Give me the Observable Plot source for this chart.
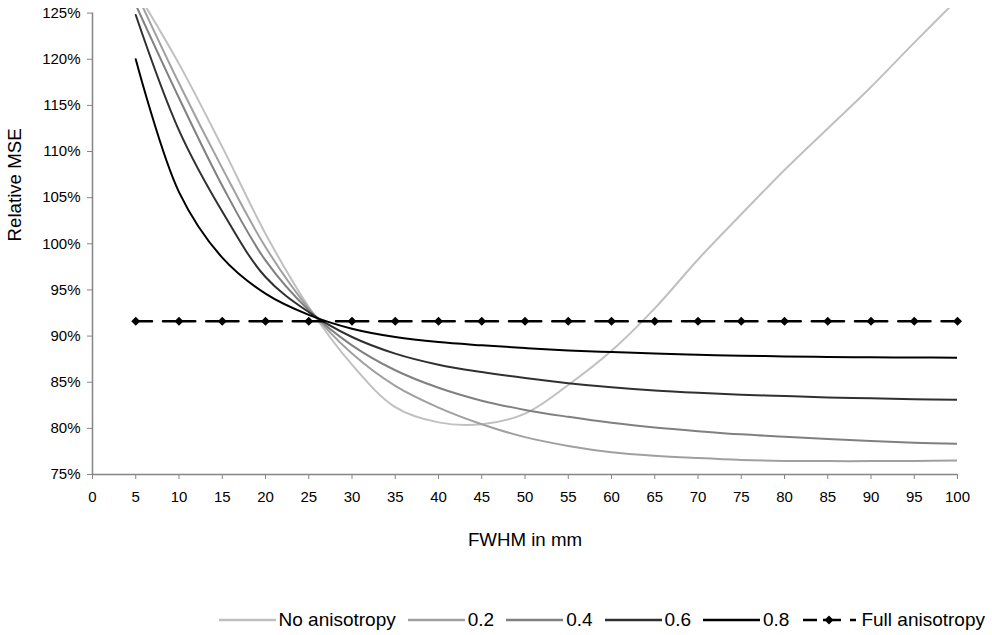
<!DOCTYPE html>
<html>
<head>
<meta charset="utf-8">
<script src="https://cdn.jsdelivr.net/npm/d3@7"></script>
<script src="https://cdn.jsdelivr.net/npm/@observablehq/plot@0.6"></script>
<style>
  html, body { margin: 0; padding: 0; background: #fff; }
  body { width: 992px; height: 635px; overflow: hidden; font-family: 'Liberation Sans', Arial, sans-serif; }
  #legend { display: flex; justify-content: flex-end; align-items: center; height: 24px; margin-top: 18px; padding-right: 7px; font-size: 19px; color: #000; }
  #legend .item { display: flex; align-items: center; margin-left: 12px; }
  #legend svg { margin-right: 3px; }
</style>
</head>
<body>
<div id="chart"></div>
<div id="legend"></div>
<script>
// FWHM (mm) sample positions
const fwhm = [5, 10, 15, 20, 25, 30, 35, 40, 45, 50, 55, 60, 65, 70, 75, 80, 85, 90, 95, 100];
// Relative MSE (%) per anisotropy level
const noAnisotropy = [127.5, 119.5, 110.5, 101.1, 93.15, 86.9, 82.3, 80.65, 80.45, 81.6, 84.7, 88.4, 93.0, 98.3, 103.2, 108.0, 112.5, 117.0, 121.8, 126.5];
const aniso02 = [127.3, 117.4, 108.2, 99.65, 93.0, 88.1, 84.6, 82.25, 80.45, 79.05, 78.1, 77.42, 77.03, 76.78, 76.58, 76.47, 76.45, 76.45, 76.46, 76.52];
const aniso04 = [125.9, 115.8, 106.3, 98.2, 92.8, 89.0, 86.3, 84.4, 83.0, 82.0, 81.25, 80.6, 80.1, 79.7, 79.35, 79.1, 78.85, 78.62, 78.45, 78.33];
const aniso06 = [124.8, 112.3, 103.5, 96.4, 92.6, 89.9, 88.1, 86.9, 86.1, 85.45, 84.9, 84.45, 84.1, 83.85, 83.65, 83.5, 83.35, 83.25, 83.15, 83.1];
const aniso08 = [120.0, 105.6, 98.5, 94.6, 92.3, 90.8, 89.9, 89.35, 89.0, 88.7, 88.45, 88.27, 88.1, 87.98, 87.87, 87.8, 87.74, 87.7, 87.68, 87.66];
const fullAnisotropy = [91.6, 91.6, 91.6, 91.6, 91.6, 91.6, 91.6, 91.6, 91.6, 91.6, 91.6, 91.6, 91.6, 91.6, 91.6, 91.6, 91.6, 91.6, 91.6, 91.6];

const seriesNames = ["No anisotropy", "0.2", "0.4", "0.6", "0.8"];
const seriesValues = [noAnisotropy, aniso02, aniso04, aniso06, aniso08];
const seriesColors = ["#c0c0c0", "#a0a0a0", "#808080", "#303030", "#000000"];

const xTicks = [0, 5, 10, 15, 20, 25, 30, 35, 40, 45, 50, 55, 60, 65, 70, 75, 80, 85, 90, 95, 100];
const yTicks = [75, 80, 85, 90, 95, 100, 105, 110, 115, 120, 125];

const xTitle = "FWHM in mm";
const yTitle = "Relative MSE";
const fullName = "Full anisotropy";

const tableFor = (vals) => fwhm.map((x, i) => ({x, y: vals[i]}));
const fullRows = tableFor(fullAnisotropy);

const lineMarks = seriesValues.map((vals, i) =>
  Plot.line(tableFor(vals), {x: "x", y: "y", stroke: seriesColors[i], strokeWidth: 2, curve: "catmull-rom", clip: true})
);

const chart = Plot.plot({
  width: 992,
  height: 590,
  marginLeft: 92,
  marginRight: 35,
  marginTop: 8,
  marginBottom: 116,
  style: {fontFamily: "'Liberation Sans', Arial, sans-serif", fontSize: "15px", color: "#000", background: "#fff", overflow: "visible"},
  x: {domain: [0, 100]},
  y: {domain: [75, 125.5]},
  marks: [
    Plot.axisX({ticks: xTicks, tickSize: 5, tickPadding: 12, fontSize: 15, label: null, stroke: "#858585", fill: "#000"}),
    Plot.axisY({ticks: yTicks, tickSize: 5, tickPadding: 7, fontSize: 15, label: null, tickFormat: d => d + "%", stroke: "#858585", fill: "#000"}),
    Plot.ruleY([75], {stroke: "#858585", strokeWidth: 1.5}),
    Plot.ruleX([0], {y1: 75, y2: 125, stroke: "#858585", strokeWidth: 1.5}),
    ...lineMarks,
    Plot.line(fullRows, {x: "x", y: "y", stroke: "#000", strokeWidth: 2.5, strokeDasharray: "32.25,11", strokeDashoffset: 16}),
    Plot.dot(fullRows, {x: "x", y: "y", symbol: "square", rotate: 45, r: 3.6, fill: "#000", stroke: "none"}),
    Plot.text([xTitle], {text: d => d, frameAnchor: "bottom", dy: 66, lineAnchor: "middle", fontSize: 18.7, fill: "#000"}),
    Plot.text([yTitle], {text: d => d, frameAnchor: "left", dx: -77, rotate: -90, lineAnchor: "middle", fontSize: 18.7, fill: "#000"})
  ]
});
document.getElementById("chart").appendChild(chart);

// Legend
const legend = document.getElementById("legend");
const ns = "http://www.w3.org/2000/svg";
function addItem(label, color, width, dashed) {
  const item = document.createElement("div");
  item.className = "item";
  const svg = document.createElementNS(ns, "svg");
  svg.setAttribute("width", 57);
  svg.setAttribute("height", 12);
  if (!dashed) {
    const l = document.createElementNS(ns, "line");
    l.setAttribute("x1", 0); l.setAttribute("x2", 57);
    l.setAttribute("y1", 6); l.setAttribute("y2", 6);
    l.setAttribute("stroke", color); l.setAttribute("stroke-width", width);
    svg.appendChild(l);
  } else {
    [[2, 16], [22, 40], [49, 55]].forEach(([a, b]) => {
      const l = document.createElementNS(ns, "line");
      l.setAttribute("x1", a); l.setAttribute("x2", b);
      l.setAttribute("y1", 6); l.setAttribute("y2", 6);
      l.setAttribute("stroke", color); l.setAttribute("stroke-width", width);
      svg.appendChild(l);
    });
    const p = document.createElementNS(ns, "path");
    p.setAttribute("d", "M28,1.5 L32.5,6 L28,10.5 L23.5,6 Z");
    p.setAttribute("fill", color);
    svg.appendChild(p);
  }
  item.appendChild(svg);
  const t = document.createElement("span");
  t.textContent = label;
  item.appendChild(t);
  legend.appendChild(item);
}
seriesNames.forEach((n, i) => addItem(n, seriesColors[i], 2.5, false));
addItem(fullName, "#000", 2.5, true);
</script>
</body>
</html>
